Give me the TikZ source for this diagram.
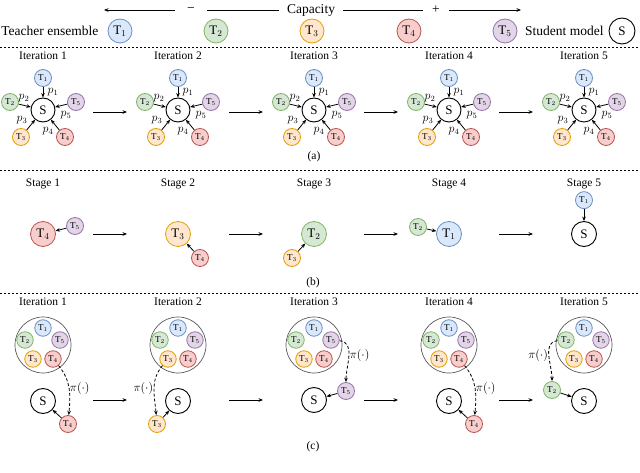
\documentclass[tikz,border=0pt]{standalone}
\usepackage{fontspec}
\setmainfont{Liberation Serif}
\usepackage{amsmath}
\usetikzlibrary{arrows.meta, positioning, calc}
\definecolor{blueline}{HTML}{6C8EBF}
\definecolor{bluefill}{HTML}{DAE8FC}
\definecolor{greenline}{HTML}{82B366}
\definecolor{greenfill}{HTML}{D5E8D4}
\definecolor{orangeline}{HTML}{E0A000}
\definecolor{orangefill}{HTML}{FFE6CC}
\definecolor{redline}{HTML}{B85450}
\definecolor{redfill}{HTML}{F8CECC}
\definecolor{purpleline}{HTML}{9673A6}
\definecolor{purplefill}{HTML}{E1D5E7}
\newcommand{\Tch}[1]{T$_{#1}$}
\tikzset{
    teacher/.style={circle, draw, line width=0.8pt, inner sep=0pt, minimum size=17pt, font=\fontsize{9}{9}\selectfont},
    bigteacher/.style={teacher, minimum size=25pt, font=\fontsize{13}{13}\selectfont},
    student/.style={circle, draw, line width=0.9pt, inner sep=0pt, minimum size=25pt, font=\fontsize{13}{13}\selectfont},
    tone1/.style={draw=blueline, fill=bluefill},
    tone2/.style={draw=greenline, fill=greenfill},
    tone3/.style={draw=orangeline, fill=orangefill},
    tone4/.style={draw=redline, fill=redfill},
    tone5/.style={draw=purpleline, fill=purplefill},
    legendtext/.style={font=\fontsize{13.5}{14}\selectfont, inner sep=1pt},
    steplabel/.style={font=\fontsize{11.5}{12}\selectfont},
    weight/.style={font=\fontsize{12}{12}\selectfont, inner sep=0.5pt},
    poolcircle/.style={circle, draw=black!65, line width=0.7pt, minimum size=56pt, inner sep=0pt},
    pimap/.style={->, densely dashed, line width=0.8pt},
    divider/.style={dash pattern=on 2pt off 2pt, line width=0.7pt},
}
% star of teachers around the student, part (a)
\newcommand{\IterStar}[3]{%
    \node[steplabel] (#1lab) at (#2,-56) {Iteration #3};
    \node[student, minimum size=24pt] (#1s) at (#2,-110) {S};
    \node[teacher, tone1] (#1t1) at ($(#1s)+(0,32)$) {\Tch{1}};
    \node[teacher, tone2] (#1t2) at ($(#1s)+(-33,8)$) {\Tch{2}};
    \node[teacher, tone5] (#1t5) at ($(#1s)+(33,8)$) {\Tch{5}};
    \node[teacher, tone3] (#1t3) at ($(#1s)+(-22,-27)$) {\Tch{3}};
    \node[teacher, tone4] (#1t4) at ($(#1s)+(22,-27)$) {\Tch{4}};
    \draw (#1t1) edge[->] (#1s);
    \draw (#1t2) edge[->] (#1s);
    \draw (#1t5) edge[->] (#1s);
    \draw (#1t3) edge[->] (#1s);
    \draw (#1t4) edge[->] (#1s);
    \node[weight] (#1w1) at ($(#1s)+(10,18)$) {$p_1$};
    \node[weight] (#1w2) at ($(#1s)+(-19,12)$) {$p_2$};
    \node[weight] (#1w5) at ($(#1s)+(23,-5)$) {$p_5$};
    \node[weight] (#1w3) at ($(#1s)+(-21,-10)$) {$p_3$};
    \node[weight] (#1w4) at ($(#1s)+(5,-21)$) {$p_4$};
}
% pool of teachers, part (c)
\newcommand{\TeacherPool}[3]{%
    \node[steplabel] (#1lab) at (#2,-302) {Iteration #3};
    \node[poolcircle] (#1pool) at (#2,-345) {};
    \node[teacher, tone1, minimum size=16.5pt] (#1p1) at ($(#1pool)+(0,17)$) {\Tch{1}};
    \node[teacher, tone2, minimum size=16.5pt] (#1p2) at ($(#1pool)+(-18,5)$) {\Tch{2}};
    \node[teacher, tone5, minimum size=16.5pt] (#1p5) at ($(#1pool)+(17,5)$) {\Tch{5}};
    \node[teacher, tone3, minimum size=16.5pt] (#1p3) at ($(#1pool)+(-10,-14)$) {\Tch{3}};
    \node[teacher, tone4, minimum size=16.5pt] (#1p4) at ($(#1pool)+(10,-14)$) {\Tch{4}};
}
\newcommand{\StepArrow}[3]{%
    \coordinate (#1l) at (#2-17,#3);
    \coordinate (#1r) at (#2+17,#3);
    \draw[->, line width=0.9pt] (#1l) -- (#1r);
}
\begin{document}
\begin{tikzpicture}[x=1pt, y=1pt, >={Stealth[length=4.5pt, width=3.6pt]}, line width=0.8pt]
    \useasboundingbox (0,0) rectangle (640,-473);

    % legend
    \node[legendtext, inner xsep=8pt] (cap) at (311,-10) {Capacity};
    \node[legendtext, inner xsep=12pt] (minus) at (191,-10) {−};
    \node[legendtext, inner xsep=9pt] (plus) at (436,-10) {+};
    \coordinate (capl) at (104,-10);
    \coordinate (capr) at (521,-10);
    \draw[->] (minus) -- (capl);
    \draw (minus) -- (cap) -- (plus);
    \draw[->] (plus) -- (capr);

    \node[legendtext, anchor=west] (teachers) at (0,-31) {Teacher ensemble};
    \node[bigteacher, tone1, minimum size=24pt] (l1) at (120,-31) {\Tch{1}};
    \node[bigteacher, tone2, minimum size=24pt] (l2) at (216,-31) {\Tch{2}};
    \node[bigteacher, tone3, minimum size=24pt] (l3) at (312,-31) {\Tch{3}};
    \node[bigteacher, tone4, minimum size=24pt] (l4) at (409,-31) {\Tch{4}};
    \node[bigteacher, tone5, minimum size=24pt] (l5) at (505,-31) {\Tch{5}};
    \node[legendtext, anchor=east] (students) at (605,-31) {Student model};
    \node[student, minimum size=26pt] (ls) at (622,-31) {S};

    \draw[divider] (0,-47) -- (640,-47);

    % (a)
    \IterStar{a1}{43}{1}
    \IterStar{a2}{178}{2}
    \IterStar{a3}{314}{3}
    \IterStar{a4}{449}{4}
    \IterStar{a5}{584}{5}
    \StepArrow{a12}{110}{-112}
    \StepArrow{a23}{246}{-112}
    \StepArrow{a34}{381}{-112}
    \StepArrow{a45}{516}{-112}
    \node[steplabel] (capa) at (314,-157) {(a)};

    \draw[divider] (0,-170) -- (640,-170);

    % (b)
    \node[steplabel] (b1lab) at (43,-184) {Stage 1};
    \node[steplabel] (b2lab) at (178,-184) {Stage 2};
    \node[steplabel] (b3lab) at (314,-184) {Stage 3};
    \node[steplabel] (b4lab) at (449,-184) {Stage 4};
    \node[steplabel] (b5lab) at (584,-184) {Stage 5};

    \node[bigteacher, tone4] (b1big) at (43,-234) {\Tch{4}};
    \node[teacher, tone5] (b1small) at (75,-226) {\Tch{5}};
    \draw (b1small) edge[->] (b1big);

    \node[bigteacher, tone3] (b2big) at (178,-234) {\Tch{3}};
    \node[teacher, tone4] (b2small) at (200,-258) {\Tch{4}};
    \draw (b2small) edge[->] (b2big);

    \node[bigteacher, tone2] (b3big) at (314,-234) {\Tch{2}};
    \node[teacher, tone3] (b3small) at (292,-258) {\Tch{3}};
    \draw (b3small) edge[->] (b3big);

    \node[bigteacher, tone1] (b4big) at (449,-234) {\Tch{1}};
    \node[teacher, tone2] (b4small) at (418,-227) {\Tch{2}};
    \draw (b4small) edge[->] (b4big);

    \node[student] (b5s) at (584,-234) {S};
    \node[teacher, tone1, above=12pt of b5s] (b5small) {\Tch{1}};
    \draw (b5small) edge[->] (b5s);

    \StepArrow{b12}{110}{-234}
    \StepArrow{b23}{246}{-234}
    \StepArrow{b34}{381}{-234}
    \StepArrow{b45}{516}{-234}
    \node[steplabel] (capb) at (313,-283) {(b)};

    \draw[divider] (0,-293) -- (640,-293);

    % (c)
    \TeacherPool{c1}{43}{1}
    \TeacherPool{c2}{178}{2}
    \TeacherPool{c3}{314}{3}
    \TeacherPool{c4}{449}{4}
    \TeacherPool{c5}{584}{5}

    \node[student] (c1s) at (43,-401) {S};
    \node[teacher, tone4] (c1out) at (68,-424) {\Tch{4}};
    \draw (c1out) edge[->] (c1s);
    \draw[pimap] (c1p4) to[out=-50, in=85] node[right, weight]{$\pi(\cdot)$} (c1out);

    \node[student] (c2s) at (178,-401) {S};
    \node[teacher, tone3] (c2out) at (157,-424) {\Tch{3}};
    \draw (c2out) edge[->] (c2s);
    \draw[pimap] (c2p3) to[out=-130, in=95] node[left, weight]{$\pi(\cdot)$} (c2out);

    \node[student] (c3s) at (314,-400) {S};
    \node[teacher, tone5] (c3out) at (346,-391) {\Tch{5}};
    \draw (c3out) edge[->] (c3s);
    \draw[pimap] (c3p5) to[out=-5, in=90] node[right, weight]{$\pi(\cdot)$} (c3out);

    \node[student] (c4s) at (449,-401) {S};
    \node[teacher, tone4] (c4out) at (474,-424) {\Tch{4}};
    \draw (c4out) edge[->] (c4s);
    \draw[pimap] (c4p4) to[out=-50, in=85] node[right, weight]{$\pi(\cdot)$} (c4out);

    \node[student] (c5s) at (584,-401) {S};
    \node[teacher, tone2] (c5out) at (552,-390) {\Tch{2}};
    \draw (c5out) edge[->] (c5s);
    \draw[pimap] (c5p2) to[out=185, in=90] node[left, weight]{$\pi(\cdot)$} (c5out);

    \StepArrow{c12}{110}{-400}
    \StepArrow{c23}{246}{-400}
    \StepArrow{c34}{381}{-400}
    \StepArrow{c45}{516}{-400}
    \node[steplabel] (capc) at (313,-447) {(c)};
\end{tikzpicture}
\end{document}
